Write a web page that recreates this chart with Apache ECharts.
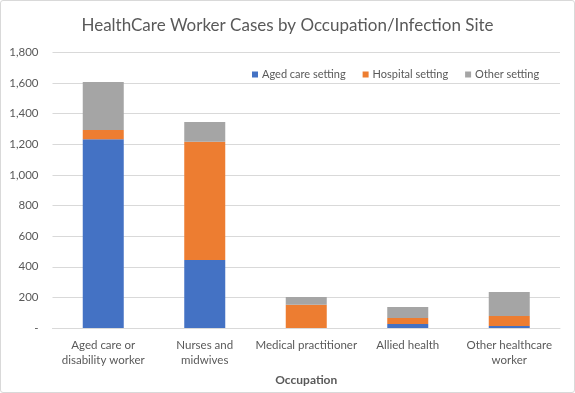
<!DOCTYPE html>
<html>
<head>
<meta charset="utf-8">
<script src="https://cdn.jsdelivr.net/npm/echarts@6/dist/echarts.min.js"></script>
<style>
html,body{margin:0;padding:0;background:#fff;}
#wrap{position:absolute;left:0;top:0;width:573px;height:391px;border:1px solid #d9d9d9;border-radius:3px;}
#chart{width:575px;height:393px;position:absolute;left:-1px;top:-1px;}
</style>
</head>
<body>
<div id="wrap"><div id="chart"></div></div>
<script>
const categories = ["Aged care or\ndisability worker", "Nurses and\nmidwives", "Medical practitioner", "Allied health", "Other healthcare\nworker"];
const agedCare = [1234, 444, 0, 26, 13];
const hospital = [59, 773, 152, 39, 65];
const other = [314, 129, 50, 72, 157];
const yTicks = [0, 200, 400, 600, 800, 1000, 1200, 1400, 1600, 1800];

const FONT = "Lato";
const TXT = "#595959";
const chart = echarts.init(document.getElementById('chart'));
chart.setOption({
  animation: false,
  title: {
    text: "HealthCare Worker Cases by Occupation/Infection Site",
    left: 'center', top: 12,
    textStyle: {fontFamily: FONT, fontSize: 17, fontWeight: 'normal', color: TXT}
  },
  legend: {
    top: 64, left: 247,
    itemWidth: 6, itemHeight: 6, itemGap: 17,
    icon: 'rect',
    textStyle: {fontFamily: FONT, fontSize: 11, color: TXT, padding: [0,0,0,-1]},
    data: ["Aged care setting", "Hospital setting", "Other setting"]
  },
  grid: {left: 52.5, right: 15, top: 52.5, bottom: 65, containLabel: false},
  xAxis: {
    type: 'category', data: categories,
    name: 'Occupation', nameLocation: 'middle', nameGap: 46,
    nameTextStyle: {fontFamily: FONT, fontSize: 12, fontWeight: 'bold', color: TXT},
    axisLine: {lineStyle: {color: '#d9d9d9'}},
    axisTick: {show: false},
    axisLabel: {fontFamily: FONT, fontSize: 11.5, color: TXT, margin: 10, lineHeight: 15, interval: 0}
  },
  yAxis: {
    type: 'value', min: yTicks[0], max: yTicks[yTicks.length-1], interval: 200,
    axisLine: {show: false}, axisTick: {show: false},
    splitLine: {lineStyle: {color: '#d9d9d9'}},
    axisLabel: {fontFamily: FONT, fontSize: 11.5, color: TXT, margin: 14,
      formatter: v => v === 0 ? '-' : v.toLocaleString('en-US')}
  },
  series: [
    {name: "Aged care setting", type: 'bar', stack: 's', data: agedCare, barWidth: 41, itemStyle: {color: '#4472c4'}},
    {name: "Hospital setting", type: 'bar', stack: 's', data: hospital, barWidth: 41, itemStyle: {color: '#ed7d31'}},
    {name: "Other setting", type: 'bar', stack: 's', data: other, barWidth: 41, itemStyle: {color: '#a5a5a5'}}
  ]
});
</script>
</body>
</html>
